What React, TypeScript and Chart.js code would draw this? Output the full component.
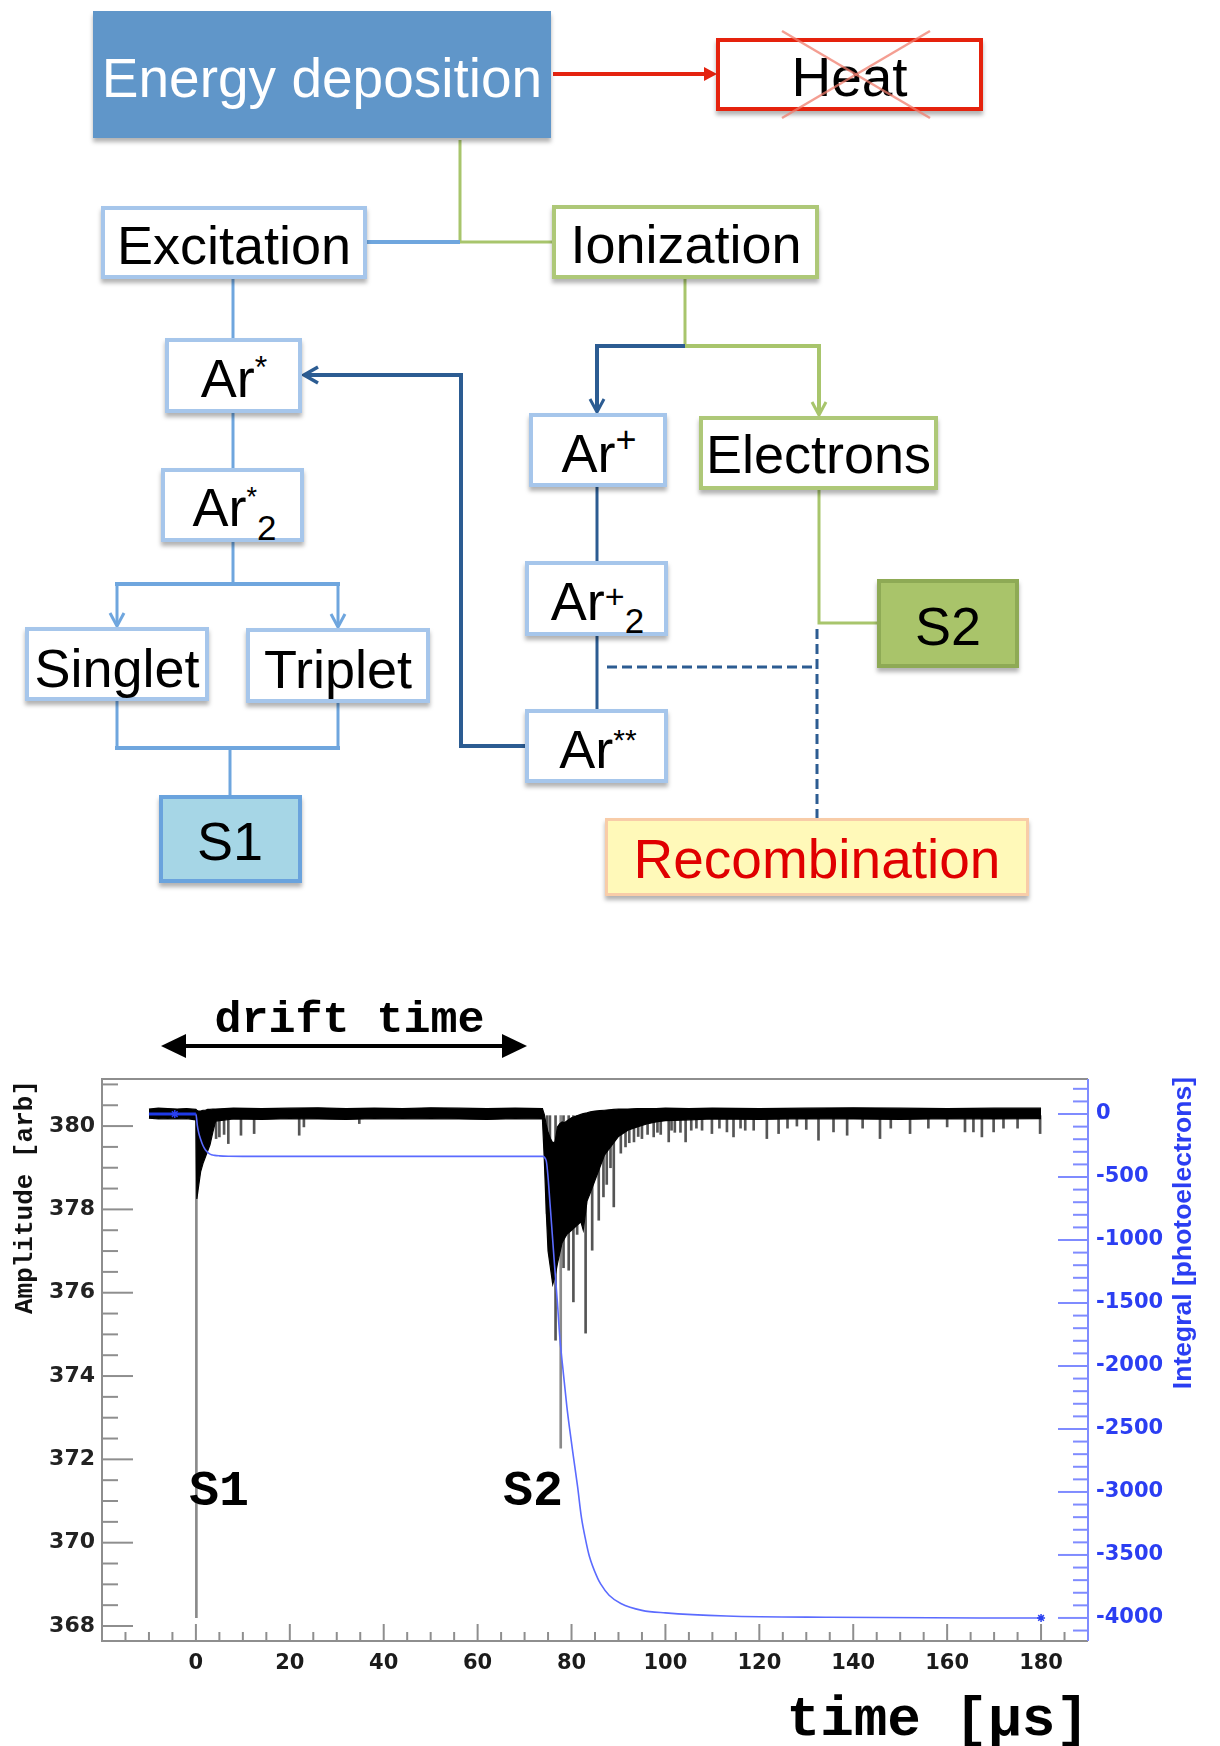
import React, { useEffect, useRef } from "react";
import { Chart, registerables } from "chart.js";

Chart.register(...registerables);

// ---------------- DATA ----------------
// tick labels
const xMajorTicks = [0, 20, 40, 60, 80, 100, 120, 140, 160, 180];
const ampMajorTicks = [368, 370, 372, 374, 376, 378, 380];
const integralMajorTicks = [0, -500, -1000, -1500, -2000, -2500, -3000, -3500, -4000];

// amplitude trace (dense noisy waveform) read as an envelope: time [us], upper / lower edge [arb]
const traceTimes = [
  -10, -8, -6, -4, -2, 0,
  0.2, 0.5, 1, 1.5, 2, 2.5, 3, 3.6, 4.2,
  8, 14, 20, 26, 32, 38, 44, 50, 56, 62, 68, 73.8,
  74.2, 74.6, 75, 75.5, 76, 76.5, 77, 77.5, 78, 78.5, 79,
  80, 81, 82, 82.5, 83.3, 84, 85, 86, 87, 88, 89, 90,
  92, 94, 96, 98, 100, 105, 110, 120, 130, 140, 150, 160, 170, 180,
];
const traceUpper = [
  380.41, 380.43, 380.42, 380.41, 380.42, 380.4,
  380.38, 380.36, 380.36, 380.38, 380.38, 380.4, 380.4, 380.41, 380.41,
  380.43, 380.42, 380.43, 380.44, 380.42, 380.43, 380.42, 380.44, 380.43, 380.42, 380.43, 380.42,
  380.28, 380.04, 379.85, 379.7, 379.6, 379.62, 379.98, 380.06, 380.1, 380.08, 380.12,
  380.2, 380.24, 380.28, 380.3, 380.32, 380.34, 380.36, 380.37, 380.38, 380.39, 380.4, 380.41,
  380.41, 380.42, 380.42, 380.42, 380.43, 380.42, 380.43, 380.42, 380.43, 380.44, 380.43, 380.42, 380.43, 380.43,
];
const traceLower = [
  380.19, 380.17, 380.18, 380.17, 380.18, 380.15,
  378.25, 378.5, 378.9, 379.1, 379.25, 379.4, 379.55, 379.85, 380.12,
  380.17, 380.16, 380.18, 380.17, 380.16, 380.18, 380.17, 380.18, 380.17, 380.16, 380.18, 380.17,
  379.2, 378.0, 377.0, 376.6, 376.2, 376.4, 376.7, 376.95, 377.2, 377.3, 377.4,
  377.5, 377.6, 377.7, 377.5, 378.2, 378.4, 378.7, 379.0, 379.3, 379.45, 379.6, 379.75,
  379.9, 379.98, 380.05, 380.1, 380.13, 380.15, 380.17, 380.16, 380.18, 380.17, 380.16, 380.18, 380.17, 380.18,
];

// isolated downward spikes of the amplitude trace: time [us], minimum [arb]
const spikeBase = 380.25;
const spikeTimes = [
  0.1, 4.3, 5.0, 6.0, 6.9, 9.6, 12.4, 22.0, 23.0, 34.8,
  74.8, 75.4, 76.6, 77.7, 78.3, 79.4, 80.4, 81.2, 83.0, 84.4, 85.8, 86.8, 87.5, 88.3, 89.0, 90.5, 91.5,
  92.3, 93.3, 94.2, 95.0, 96.2, 97.5, 98.3, 99.0, 100.7, 101.3, 102.0, 103.2, 104.3, 105.5, 106.6,
  107.8, 109.9, 111.5, 113.1, 114.5, 116.0, 117.0, 118.8, 121.6, 124.1, 126.0, 128.0, 130.0,
  132.6, 135.8, 138.7, 142.0, 145.7, 148.0, 152.1, 156.0, 160.0, 163.8, 165.6, 167.4, 169.9,
  172.0, 175.0, 179.8,
];
const spikeDepths = [
  368.2, 379.7, 379.74, 379.8, 379.58, 379.78, 379.82, 379.78, 379.98, 380.06,
  377.9, 376.95, 374.86, 372.27, 376.6, 376.54, 375.78, 377.4, 375.03, 377.02, 377.74, 378.3, 378.6, 379.0, 378.06, 379.35, 379.5,
  379.6, 379.62, 379.75, 379.7, 379.8, 379.74, 379.85, 379.8, 379.62, 379.9, 379.85, 379.85, 379.62, 379.9, 379.95,
  379.9, 379.82, 379.95, 379.86, 379.74, 379.95, 379.9, 379.9, 379.7, 379.82, 379.95, 380.0, 379.92,
  379.66, 379.86, 379.78, 379.95, 379.7, 379.95, 379.82, 379.95, 379.98, 379.86, 379.86, 379.74, 379.86,
  379.95, 379.95, 379.82,
];

// running integral [photoelectrons]
const integralTimes = [
  -10, -4.5, 0, 0.3, 0.6, 1, 1.5, 2, 3, 4, 5, 7, 10, 73.8,
  74.6, 75.5, 76.3, 77, 77.5, 78.3, 79, 79.6, 80.4, 81.3, 82.1, 83, 83.8, 85.5, 86.2, 88, 90.5,
  95, 100, 113, 135, 167, 180,
];
const integralValues = [
  0, 0, 0, -90, -150, -200, -250, -283, -318, -328, -332, -335, -336, -336,
  -370, -750, -1160, -1500, -1770, -2070, -2320, -2500, -2720, -2960, -3200, -3380, -3510, -3680, -3730, -3820, -3885,
  -3940, -3960, -3984, -3995, -4000, -4000,
];

// ---------------- CHART ----------------
const GRAY = "#8e8e8e";
const BLUE_AXIS = "#7f8bff";
const BLUE_TEXT = "#2b3ef2";

const decorPlugin = {
  id: "decor",
  afterDraw(chart: any) {
    const { ctx, chartArea: ca, scales } = chart;
    const xs = scales.x;
    const ys = scales.y;
    const y2 = scales.y2;
    ctx.save();
    // frame
    ctx.lineWidth = 2;
    ctx.strokeStyle = GRAY;
    ctx.beginPath();
    ctx.moveTo(ca.right, ca.top);
    ctx.lineTo(ca.left, ca.top);
    ctx.lineTo(ca.left, ca.bottom);
    ctx.lineTo(ca.right, ca.bottom);
    ctx.stroke();
    ctx.strokeStyle = BLUE_AXIS;
    ctx.beginPath();
    ctx.moveTo(ca.right, ca.top);
    ctx.lineTo(ca.right, ca.bottom);
    ctx.stroke();

    // x ticks (inward)
    ctx.strokeStyle = GRAY;
    ctx.lineWidth = 2;
    for (let v = -15; v <= 185; v += 5) {
      const px = xs.getPixelForValue(v);
      const len = v % 20 === 0 ? 17 : 9;
      ctx.beginPath();
      ctx.moveTo(px, ca.bottom);
      ctx.lineTo(px, ca.bottom - len);
      ctx.stroke();
    }
    // left y ticks
    for (let k = 0; k <= 26; k++) {
      const v = 368 + k * 0.5;
      const py = ys.getPixelForValue(v);
      const len = v % 2 === 0 ? 31 : 16;
      ctx.beginPath();
      ctx.moveTo(ca.left, py);
      ctx.lineTo(ca.left + len, py);
      ctx.stroke();
    }
    // right y ticks
    ctx.strokeStyle = BLUE_AXIS;
    for (let v = -4100; v <= 200; v += 100) {
      const py = y2.getPixelForValue(v);
      const len = v % 500 === 0 ? 30 : 15;
      ctx.beginPath();
      ctx.moveTo(ca.right, py);
      ctx.lineTo(ca.right - len, py);
      ctx.stroke();
    }

    // axis titles
    ctx.fillStyle = "#111";
    ctx.font = "bold 26px 'Liberation Mono', monospace";
    ctx.textAlign = "right";
    ctx.textBaseline = "alphabetic";
    ctx.save();
    ctx.translate(32, ca.top + 1);
    ctx.rotate(-Math.PI / 2);
    ctx.fillText("Amplitude [arb]", 0, 0);
    ctx.restore();

    ctx.fillStyle = BLUE_TEXT;
    ctx.font = "bold 26.5px 'Liberation Sans', Arial, sans-serif";
    ctx.save();
    ctx.translate(1191, ca.top - 2);
    ctx.rotate(-Math.PI / 2);
    ctx.fillText("Integral [photoelectrons]", 0, 0);
    ctx.restore();

    ctx.fillStyle = "#000";
    ctx.font = "bold 56px 'Liberation Mono', monospace";
    ctx.textAlign = "right";
    ctx.fillText("time [\u03bcs]", ca.right + 1, 775);

    // annotations
    ctx.font = "bold 45px 'Liberation Mono', monospace";
    ctx.textAlign = "center";
    ctx.fillText("drift time", 349.5, 72);

    ctx.font = "bold 50px 'Liberation Mono', monospace";
    ctx.textAlign = "left";
    ctx.fillText("S1", 189, 545);
    ctx.fillText("S2", 503, 545);

    // double arrow for drift time
    const ay = 86;
    const xl = 161;
    const xr = 527;
    ctx.strokeStyle = "#000";
    ctx.lineWidth = 4;
    ctx.beginPath();
    ctx.moveTo(xl + 10, ay);
    ctx.lineTo(xr - 10, ay);
    ctx.stroke();
    ctx.beginPath();
    ctx.moveTo(xl, ay);
    ctx.lineTo(xl + 25, ay - 12);
    ctx.lineTo(xl + 25, ay + 12);
    ctx.closePath();
    ctx.fill();
    ctx.beginPath();
    ctx.moveTo(xr, ay);
    ctx.lineTo(xr - 25, ay - 12);
    ctx.lineTo(xr - 25, ay + 12);
    ctx.closePath();
    ctx.fill();
    ctx.restore();
  },
};

const tickFont = { family: "'DejaVu Sans', sans-serif", size: 21, weight: "bold" as const };

function buildConfig(): any {
  const datasets: any[] = [
    {
      type: "line",
      label: "Integral",
      data: integralTimes.map((t, i) => ({ x: t, y: integralValues[i] })),
      yAxisID: "y2",
      xAxisID: "x",
      borderColor: "#5b6bff",
      borderWidth: 1.6,
      pointRadius: (c: any) =>
        c.dataIndex === 1 || c.dataIndex === integralTimes.length - 1 ? 4 : 0,
      pointStyle: "star",
      pointBorderColor: "#2a40f0",
      pointBorderWidth: 1.5,
      segment: {
        borderColor: (c: any) => (c.p1.parsed.x <= 0 ? "#1f3ae8" : "#5b6bff"),
        borderWidth: (c: any) => (c.p1.parsed.x <= 0 ? 3 : 1.6),
      },
      cubicInterpolationMode: "monotone",
      fill: false,
      order: 0,
    },
    {
      type: "bar",
      label: "Spikes",
      data: spikeTimes.map((t, i) => ({ x: t, y: [spikeBase, spikeDepths[i]] })),
      yAxisID: "y",
      xAxisID: "x",
      backgroundColor: (c: any) => (c.dataIndex === 0 || c.dataIndex === 13 ? "#8a8a8a" : "#555555"),
      borderWidth: 0,
      barThickness: 2,
      order: 3,
    },
    {
      type: "line",
      label: "Amplitude upper",
      data: traceTimes.map((t, i) => ({ x: t, y: traceUpper[i] })),
      yAxisID: "y",
      xAxisID: "x",
      borderColor: "#000",
      borderWidth: 1.2,
      pointRadius: 0,
      tension: 0,
      fill: false,
      order: 1,
    },
    {
      type: "line",
      label: "Amplitude lower",
      data: traceTimes.map((t, i) => ({ x: t, y: traceLower[i] })),
      yAxisID: "y",
      xAxisID: "x",
      borderColor: "#000",
      backgroundColor: "#000",
      borderWidth: 1.2,
      pointRadius: 0,
      tension: 0,
      fill: "-1",
      order: 1,
    },
  ];

  return {
    type: "line",
    data: { datasets },
    options: {
      animation: false,
      responsive: false,
      events: [],
      layout: { padding: { top: 119, left: 0, right: 0, bottom: 0 } },
      plugins: { legend: { display: false }, tooltip: { enabled: false } },
      scales: {
        x: {
          type: "linear",
          position: "bottom",
          min: -20,
          max: 190,
          offset: false,
          grid: { display: false, drawTicks: false, offset: false },
          border: { display: false },
          ticks: {
            autoSkip: false,
            maxRotation: 0,
            minRotation: 0,
            padding: 10,
            color: "#1b1b1b",
            font: tickFont,
            callback: (v: any) => String(v),
          },
          afterBuildTicks: (s: any) => {
            s.ticks = xMajorTicks.map((v) => ({ value: v }));
          },
          afterFit: (s: any) => {
            s.height = 105;
          },
        },
        y: {
          type: "linear",
          position: "left",
          min: 367.64,
          max: 381.13,
          grid: { display: false, drawTicks: false },
          border: { display: false },
          ticks: {
            autoSkip: false,
            padding: 7,
            color: "#222",
            font: { ...tickFont, size: 22 },
            callback: (v: any) => String(v),
          },
          afterBuildTicks: (s: any) => {
            s.ticks = ampMajorTicks.map((v) => ({ value: v }));
          },
          afterFit: (s: any) => {
            s.width = 102;
          },
        },
        y2: {
          type: "linear",
          position: "right",
          min: -4183,
          max: 278,
          grid: { display: false, drawTicks: false },
          border: { display: false },
          ticks: {
            autoSkip: false,
            padding: 8,
            color: BLUE_TEXT,
            font: tickFont,
            callback: (v: any) => String(v),
          },
          afterBuildTicks: (s: any) => {
            s.ticks = integralMajorTicks.map((v) => ({ value: v }));
          },
          afterFit: (s: any) => {
            s.width = 132;
          },
        },
      },
    },
    plugins: [decorPlugin],
  };
}

// ---------------- FLOWCHART ----------------
const FONT = "'Liberation Sans', Arial, Helvetica, sans-serif";
const LB = "#A6C6EB"; // light blue box border
const GB = "#AEC878"; // green box border
const LBL = "#6FA6DE"; // light blue connector
const GRL = "#A8C56C"; // green connector
const DB = "#2C5C92"; // dark blue connector

function Box(p: { x0: number; y0: number; x1: number; y1: number; fill?: string; stroke?: string; sw?: number }) {
  const sw = p.sw ?? 4;
  return (
    <rect
      x={p.x0 + sw / 2}
      y={p.y0 + sw / 2}
      width={p.x1 - p.x0 - sw}
      height={p.y1 - p.y0 - sw}
      fill={p.fill ?? "#fff"}
      stroke={p.stroke ?? "none"}
      strokeWidth={p.stroke ? sw : 0}
      filter="url(#shadow)"
    />
  );
}

function VDown({ x, y, c }: { x: number; y: number; c: string }) {
  return <polyline points={`${x - 7},${y - 13} ${x},${y} ${x + 7},${y - 13}`} fill="none" stroke={c} strokeWidth={3} />;
}

function Flowchart() {
  const t = { fontFamily: FONT, fontSize: 54, textAnchor: "middle" as const, fill: "#000" };
  return (
    <svg width={1220} height={960} style={{ position: "absolute", left: 0, top: 0 }}>
      <defs>
        <filter id="shadow" x="-10%" y="-10%" width="120%" height="140%">
          <feDropShadow dx="0" dy="4" stdDeviation="2.2" floodColor="#000" floodOpacity="0.3" />
        </filter>
      </defs>

      {/* connectors */}
      <line x1={553} y1={74} x2={707} y2={74} stroke="#E4230F" strokeWidth={4} />
      <polygon points="704,67 717,74 704,81" fill="#E4230F" />
      <polyline points="460,140 460,242 553,242" fill="none" stroke={GRL} strokeWidth={3} />
      <line x1={366} y1={242} x2={460} y2={242} stroke={LBL} strokeWidth={4} />
      <line x1={233} y1={278} x2={233} y2={339} stroke={LBL} strokeWidth={3} />
      <line x1={233} y1={412} x2={233} y2={469} stroke={LBL} strokeWidth={3} />
      <line x1={233} y1={541} x2={233} y2={584} stroke={LBL} strokeWidth={3} />
      <line x1={115} y1={584} x2={340} y2={584} stroke={LBL} strokeWidth={4} />
      <line x1={117} y1={584} x2={117} y2={625} stroke={LBL} strokeWidth={3} />
      <line x1={338} y1={584} x2={338} y2={626} stroke={LBL} strokeWidth={3} />
      <VDown x={117} y={626} c={LBL} />
      <VDown x={338} y={627} c={LBL} />
      <line x1={117} y1={700} x2={117} y2={748} stroke={LBL} strokeWidth={3} />
      <line x1={338} y1={702} x2={338} y2={748} stroke={LBL} strokeWidth={3} />
      <line x1={115} y1={748} x2={340} y2={748} stroke={LBL} strokeWidth={4} />
      <line x1={230} y1={748} x2={230} y2={796} stroke={LBL} strokeWidth={3} />

      <line x1={685} y1={278} x2={685} y2={346} stroke={GRL} strokeWidth={3} />
      <polyline points="685,346 597,346 597,411" fill="none" stroke={DB} strokeWidth={4} />
      <VDown x={597} y={412} c={DB} />
      <polyline points="685,346 819,346 819,414" fill="none" stroke={GRL} strokeWidth={4} />
      <VDown x={819} y={415} c={GRL} />
      <line x1={597} y1={486} x2={597} y2={562} stroke={DB} strokeWidth={3} />
      <line x1={597} y1={635} x2={597} y2={710} stroke={DB} strokeWidth={3} />
      <polyline points="526,746 461,746 461,375 304,375" fill="none" stroke={DB} strokeWidth={4} />
      <polyline points="318,367 304,375 318,383" fill="none" stroke={DB} strokeWidth={3.5} />
      <polyline points="819,489 819,623 878,623" fill="none" stroke={GRL} strokeWidth={3} />
      <line x1={817} y1={629} x2={817} y2={819} stroke={DB} strokeWidth={3} strokeDasharray="10 5" />
      <line x1={607} y1={667} x2={817} y2={667} stroke={DB} strokeWidth={3} strokeDasharray="10 5" />

      {/* boxes */}
      <Box x0={91} y0={9} x1={553} y1={140} fill="#6196C9" />
      <Box x0={716} y0={38} x1={983} y1={111} stroke="#E5230D" sw={4} />
      <Box x0={101} y0={206} x1={367} y1={279} stroke={LB} />
      <Box x0={552} y0={205} x1={819} y1={279} stroke={GB} />
      <Box x0={165} y0={338} x1={302} y1={413} stroke={LB} />
      <Box x0={161} y0={468} x1={304} y1={542} stroke={LB} />
      <Box x0={25} y0={627} x1={209} y1={701} stroke={LB} />
      <Box x0={246} y0={628} x1={430} y1={703} stroke={LB} />
      <Box x0={159} y0={795} x1={302} y1={883} fill="#A6D6E6" stroke="#6BA3DD" />
      <Box x0={529} y0={413} x1={667} y1={487} stroke={LB} />
      <Box x0={699} y0={416} x1={938} y1={490} stroke={GB} />
      <Box x0={525} y0={561} x1={668} y1={636} stroke={LB} />
      <Box x0={525} y0={709} x1={668} y1={783} stroke={LB} />
      <Box x0={877} y0={579} x1={1019} y1={668} fill="#A9C46A" stroke="#8EAA55" />
      <Box x0={605} y0={818} x1={1029} y1={896} fill="#FFF9B9" stroke="#F8CCA8" sw={3} />

      {/* texts */}
      <text x={322} y={97} {...t} fontSize={55} fill="#fff">Energy deposition</text>
      <text x={849.5} y={96} {...t} fontSize={55}>Heat</text>
      <line x1={782} y1={31} x2={930} y2={118} stroke="rgba(240,125,110,0.75)" strokeWidth={2.5} />
      <line x1={930} y1={31} x2={782} y2={118} stroke="rgba(240,125,110,0.75)" strokeWidth={2.5} />
      <text x={234} y={263.5} {...t}>Excitation</text>
      <text x={686} y={263} {...t}>Ionization</text>
      <text x={234} y={397} {...t}>
        Ar<tspan fontSize={32} dy={-19}>*</tspan>
      </text>
      <text x={234.5} y={526} {...t}>
        Ar<tspan fontSize={27} dy={-20}>*</tspan>
        <tspan fontSize={35} dy={34}>2</tspan>
      </text>
      <text x={117} y={687} {...t}>Singlet</text>
      <text x={338} y={688} {...t}>Triplet</text>
      <text x={230} y={860} {...t}>S1</text>
      <text x={599} y={472} {...t}>
        Ar<tspan fontSize={36} dy={-20}>+</tspan>
      </text>
      <text x={818.5} y={473} {...t}>Electrons</text>
      <text x={597.5} y={620} {...t}>
        Ar<tspan fontSize={34} dy={-12}>+</tspan>
        <tspan fontSize={35} dy={25}>2</tspan>
      </text>
      <text x={598} y={768} {...t}>
        Ar<tspan fontSize={30} dy={-18.5}>**</tspan>
      </text>
      <text x={948} y={645} {...t}>S2</text>
      <text x={817} y={878} {...t} fontSize={55} fill="#E00000">Recombination</text>
    </svg>
  );
}

export default function App() {
  const ref = useRef<HTMLCanvasElement | null>(null);
  useEffect(() => {
    document.body.style.margin = "0";
    if (!ref.current) return;
    const chart = new Chart(ref.current, buildConfig());
    return () => chart.destroy();
  }, []);
  return (
    <div style={{ position: "absolute", left: 0, top: 0, width: 1220, height: 1746, background: "#fff", overflow: "hidden" }}>
      <Flowchart />
      <canvas
        ref={ref}
        width={1220}
        height={786}
        style={{ position: "absolute", left: 0, top: 960, width: 1220, height: 786 }}
      />
    </div>
  );
}
